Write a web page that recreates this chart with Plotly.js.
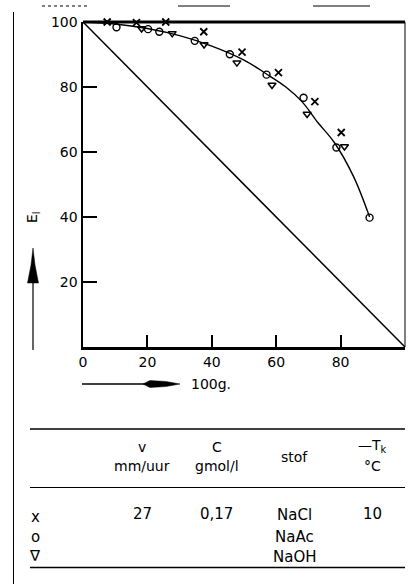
<!DOCTYPE html>
<html><head><meta charset="utf-8">
<script src="https://cdn.plot.ly/plotly-3.0.1.min.js"></script>
<style>html,body{margin:0;padding:0;background:#fff}#c{width:413px;height:584px}</style>
</head><body><div id="c"></div>
<script>
// ---- data ----
const naclX = [7.5, 16.6, 25.7, 37.5, 49.4, 60.7, 72.0, 80.2];
const naclY = [100, 99.8, 100, 97.0, 90.7, 84.4, 75.5, 66.0];
const naacX = [10.4, 20.2, 23.7, 34.7, 45.6, 57.0, 68.5, 78.7, 89.0];
const naacY = [98.4, 97.8, 97.0, 94.2, 90.1, 83.8, 76.7, 61.4, 39.8];
const naohX = [18.2, 27.7, 37.6, 47.8, 58.7, 69.6, 81.2];
const naohY = [98.0, 96.5, 93.1, 87.5, 80.6, 71.7, 61.7];
const fitX = [0, 10, 20, 30, 40, 50, 57, 63, 68, 73, 78, 84, 89];
const fitY = [100, 99.4, 98, 95.8, 92.6, 88.3, 84, 80, 75.5, 69, 63, 52.5, 40];
const diagX = [0, 100];
const diagY = [100, 0];
const xTicks = [0, 20, 40, 60, 80];
const yTicks = [20, 40, 60, 80, 100];
const tableSymbols = ["x", "o", "∇"];
const headerTop = ["v", "C", "stof", "—T<sub>k</sub>"];
const headerBottom = ["mm/uur", "gmol/l", "", "°C"];
const tableV = ["27"];
const tableC = ["0,17"];
const tableStof = ["NaCl", "NaAc", "NaOH"];
const tableT = ["10"];

// ---- pixel helpers for decorations ----
const L = 83, R = 405, T = 22, B = 347;
const px = x => (x - L) / (R - L);
const py = y => (B - y) / (B - T);
const FONT = "DejaVu Sans, Liberation Sans, sans-serif";

const traces = [
  {x: diagX, y: diagY, mode: "lines", line: {color: "#000", width: 1.5}, hoverinfo: "skip"},
  {x: fitX, y: fitY, mode: "lines", line: {color: "#000", width: 1.4, shape: "spline", smoothing: 1}, hoverinfo: "skip"},
  {x: naclX, y: naclY, mode: "markers", cliponaxis: false,
   marker: {symbol: "x-thin-open", size: 7, color: "#000", line: {color: "#000", width: 1.8}}},
  {x: naacX, y: naacY, mode: "markers", cliponaxis: false,
   marker: {symbol: "circle-open", size: 7, color: "#000", line: {color: "#000", width: 1.4}}},
  {x: naohX, y: naohY, mode: "markers", cliponaxis: false,
   marker: {symbol: "triangle-down-open", size: 7, color: "#000", line: {color: "#000", width: 1.5}}}
];

const shapes = [
  {type: "line", xref: "paper", yref: "paper", x0: 0, x1: 1, y0: 1, y1: 1, line: {color: "#000", width: 3}},
  {type: "line", xref: "paper", yref: "paper", x0: 1, x1: 1, y0: 0, y1: 1, line: {color: "#000", width: 1}},
  {type: "line", xref: "paper", yref: "paper", x0: px(82), x1: px(150), y0: py(384), y1: py(384), line: {color: "#000", width: 1.5}},
  {type: "path", xref: "paper", yref: "paper", fillcolor: "#000", line: {color: "#000", width: 0.5},
   path: `M ${px(143)},${py(384)} L ${px(150)},${py(380.5)} L ${px(166)},${py(381.5)} L ${px(180)},${py(384)} L ${px(166)},${py(386.5)} L ${px(150)},${py(387.5)} Z`},
  {type: "line", xref: "paper", yref: "paper", x0: px(33), x1: px(33), y0: py(350), y1: py(275), line: {color: "#000", width: 1.2}},
  {type: "path", xref: "paper", yref: "paper", fillcolor: "#000", line: {color: "#000", width: 0.5},
   path: `M ${px(27.5)},${py(283)} L ${px(31)},${py(265)} L ${px(33)},${py(248)} L ${px(35)},${py(265)} L ${px(38.5)},${py(283)} Z`},
  {type: "line", xref: "paper", yref: "paper", x0: px(30), x1: px(405), y0: py(429), y1: py(429), line: {color: "#000", width: 1.3}},
  {type: "line", xref: "paper", yref: "paper", x0: px(30), x1: px(405), y0: py(487.5), y1: py(487.5), line: {color: "#000", width: 1}},
  {type: "line", xref: "paper", yref: "paper", x0: px(30), x1: px(405), y0: py(567.5), y1: py(567.5), line: {color: "#000", width: 1.5}},
  {type: "line", xref: "paper", yref: "paper", x0: px(42), x1: px(88), y0: py(6), y1: py(6), line: {color: "#000", width: 1, dash: "dot"}},
  {type: "line", xref: "paper", yref: "paper", x0: px(178), x1: px(230), y0: py(6), y1: py(6), line: {color: "#000", width: 1}},
  {type: "line", xref: "paper", yref: "paper", x0: px(313), x1: px(370), y0: py(6), y1: py(6), line: {color: "#000", width: 1}},
  {type: "line", xref: "paper", yref: "paper", x0: px(13.5), x1: px(13.5), y0: py(12), y1: py(584), line: {color: "#000", width: 1}}
];

const ann = (x, y, text, opts = {}) => Object.assign({
  xref: "paper", yref: "paper", x: px(x), y: py(y), text: text, showarrow: false,
  font: {family: FONT, size: 15, color: "#000"}, xanchor: "center", yanchor: "middle"
}, opts);
const HF = {family: FONT, size: 14, color: "#000"};

const colX = [142, 216.5, 294.5, 372];
const annotations = [
  ann(189, 384, "100g.", {xanchor: "left", font: {family: FONT, size: 14, color: "#000"}}),
  ann(33, 217, "E<sub>l</sub>", {textangle: -90, font: {family: FONT, size: 14, color: "#000"}}),
  ann(colX[0], 446.5, headerTop[0], {font: HF}),
  ann(colX[1], 446.5, headerTop[1], {font: HF}),
  ann(colX[2], 457, headerTop[2], {font: HF}),
  ann(colX[3], 446, headerTop[3], {font: HF}),
  ann(colX[0], 466, headerBottom[0], {font: HF}),
  ann(colX[1], 466, headerBottom[1], {font: HF}),
  ann(colX[3], 466, headerBottom[3], {font: HF}),
  ann(35, 516.5, tableSymbols[0]),
  ann(35, 536.5, tableSymbols[1]),
  ann(35, 555.5, tableSymbols[2]),
  ann(142.5, 514, tableV[0]),
  ann(216, 514, tableC[0]),
  ann(294.5, 514.5, tableStof[0]),
  ann(294.5, 536.5, tableStof[1]),
  ann(294.5, 556.5, tableStof[2]),
  ann(372, 514, tableT[0])
];

const layout = {
  width: 413, height: 584,
  margin: {l: L, r: 413 - R, t: T, b: 584 - B, pad: 0},
  paper_bgcolor: "#fff", plot_bgcolor: "#fff",
  showlegend: false,
  font: {family: FONT, size: 14, color: "#000"},
  xaxis: {range: [0, 100], showgrid: false, zeroline: false, showline: true, linecolor: "#000", linewidth: 3,
          tickmode: "array", tickvals: xTicks, ticktext: xTicks.map(String), ticks: "inside", ticklen: 12, tickwidth: 2, tickcolor: "#000",
          tickfont: {family: FONT, size: 14, color: "#000"}},
  yaxis: {range: [0, 100], showgrid: false, zeroline: false, showline: true, linecolor: "#000", linewidth: 2.5,
          tickmode: "array", tickvals: yTicks, ticktext: yTicks.map(String), ticks: "inside", ticklen: 14, tickwidth: 1.5, tickcolor: "#000",
          tickfont: {family: FONT, size: 14, color: "#000"}},
  shapes: shapes,
  annotations: annotations
};

Plotly.newPlot("c", traces, layout, {staticPlot: true, displayModeBar: false});
</script></body></html>
